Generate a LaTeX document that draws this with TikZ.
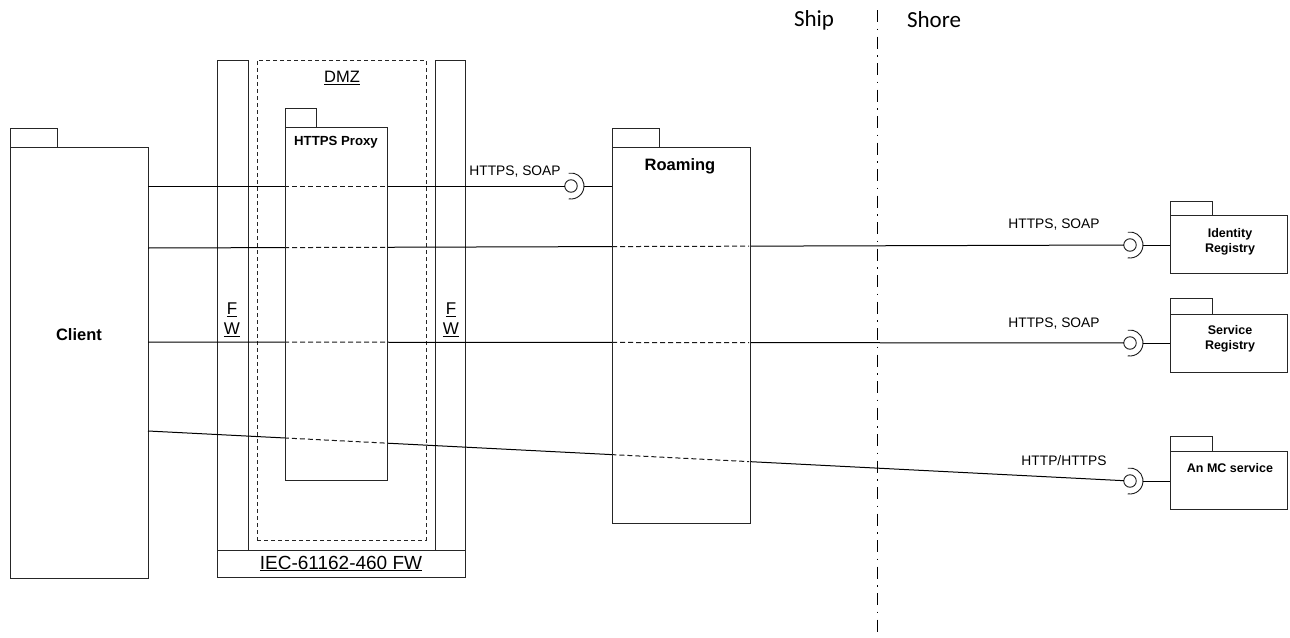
\documentclass[tikz,border=0pt]{standalone}
\usepackage{fontspec}
\setmainfont{Liberation Sans}
\newfontfamily\shipfont{Carlito}
\begin{document}
\begin{tikzpicture}[x=1pt,y=-1pt,line width=0.9pt,
  box/.style={draw=black!85,inner sep=0pt,outer sep=0pt,anchor=north west,rectangle},
  wbox/.style={box,fill=white},
  tab/.style={draw=black!85,inner sep=0pt,outer sep=0pt,anchor=south west,rectangle},
  lolli/.style={circle,draw=black!90,inner sep=0pt,outer sep=0pt,minimum size=12.5pt},
  conn/.style={draw=black,line width=1pt},
  hid/.style={draw=black!90,line width=1pt,dash pattern=on 5pt off 3pt},
  big/.style={font=\bfseries\fontsize{16.5}{19}\selectfont},
  small/.style={font=\bfseries\fontsize{12.5}{15.5}\selectfont,align=center},
  proto/.style={font=\fontsize{13.8}{16}\selectfont},
  fwlbl/.style={font=\fontsize{17}{20}\selectfont,align=center}]
\useasboundingbox (0,0) rectangle (1290,637);

% firewall structure
\node[box,minimum width=31pt,minimum height=490pt] (fwl) at (217,60) {};
\node[box,minimum width=30pt,minimum height=490pt] (fwr) at (435,60) {};
\node[box,minimum width=248pt,minimum height=27pt] (iec) at (217,550) {};
\node[box,dashed,dash pattern=on 4pt off 3pt,line width=0.8pt,minimum width=169pt,minimum height=480pt] (dmz) at (257,60) {};

% client
\node[box,minimum width=138pt,minimum height=431pt] (client) at (10,147) {};
\node[tab,minimum width=47pt,minimum height=19pt] (clienttab) at (client.north west) {};

% right components
\node[box,minimum width=117pt,minimum height=58pt] (idr) at (1170,215) {};
\node[tab,minimum width=42pt,minimum height=14pt] (idrtab) at (idr.north west) {};
\node[box,minimum width=117pt,minimum height=58pt] (svr) at (1170,314) {};
\node[tab,minimum width=42pt,minimum height=16pt] (svrtab) at (svr.north west) {};
\node[box,minimum width=117pt,minimum height=58pt] (mcs) at (1170,451) {};
\node[tab,minimum width=42pt,minimum height=15pt] (mcstab) at (mcs.north west) {};

% lollipops
\node[lolli] (l1) at (571,186) {};
\node[lolli] (l2) at (1130,245) {};
\node[lolli] (l3) at (1130,343) {};
\node[lolli] (l4) at (1130,481) {};
\foreach \n in {l1,l2,l3,l4}{
  \draw[draw=black!90,line width=0.9pt] ([shift={(100:13pt)}]\n.center) arc[start angle=100,end angle=-100,radius=13pt];
  \coordinate (\n s) at ([shift={(13pt,0pt)}]\n.center);
}

% client attachment points
\coordinate (c1) at (148,186);
\coordinate (c2) at (148,248);
\coordinate (c3) at (148,342);
\coordinate (c4) at (148,431);

% connectors
\draw[conn] (c1) -- (l1);
\draw[conn] (c2) -- (l2);
\draw[conn] (c3) -- (l3);
\draw[conn] (c4) -- (l4);

% proxy and roaming boxes (cover connectors)
\node[wbox,minimum width=102pt,minimum height=353pt] (proxy) at (285,127) {};
\node[tab,fill=white,minimum width=31pt,minimum height=19pt] (proxytab) at (proxy.north west) {};
\node[wbox,minimum width=138pt,minimum height=376pt] (roam) at (612,147) {};
\node[tab,fill=white,minimum width=47pt,minimum height=19pt] (roamtab) at (roam.north west) {};

\draw[conn] (l1s) -- (l1s -| roam.west);
\draw[conn] (l2s) -- (l2s -| idr.west);
\draw[conn] (l3s) -- (l3s -| svr.west);
\draw[conn] (l4s) -- (l4s -| mcs.west);

% hidden parts of connectors
\begin{scope}
  \clip ([shift={(1pt,-1pt)}]proxy.north west) rectangle ([shift={(-1pt,1pt)}]proxy.south east)
        ([shift={(1pt,-1pt)}]roam.north west) rectangle ([shift={(-1pt,1pt)}]roam.south east);
  \draw[hid] (c1) -- (l1);
  \draw[hid] (c2) -- (l2);
  \draw[hid] (c3) -- (l3);
  \draw[hid] (c4) -- (l4);
\end{scope}

% ship / shore divider
\coordinate (divtop) at (877,10);
\coordinate (divbot) at (877,637);
\draw[black,line width=1pt,dash pattern=on 12pt off 6.5pt on 1.5pt off 6.5pt] (divtop) -- (divbot);
\node[font=\shipfont\fontsize{23}{26}\selectfont] (ship) at (814,20) {Ship};
\node[font=\shipfont\fontsize{23}{26}\selectfont] (shore) at (934,20) {Shore};

% labels
\node[big] (clientlbl) at (79,335) {Client};
\node[big] (roamlbl) at (680,166) {Roaming};
\node[font=\bfseries\fontsize{13.2}{16}\selectfont] (proxylbl) at (336,142) {HTTPS Proxy};
\node[small] (idrlbl) at (1230,242) {Identity\\Registry};
\node[small] (svrlbl) at (1230,339) {Service\\Registry};
\node[small] (mcslbl) at (1230,468) {An MC service};
\node[font=\fontsize{16.5}{19}\selectfont] (dmzlbl) at (342,78) {\underline{DMZ}};
\node[font=\fontsize{19}{22}\selectfont] (iecbl) at (iec.center) {\underline{IEC-61162-460 FW}};
\node[fwlbl] (fwllbl) at (232,320) {\underline{F}\\\underline{W}};
\node[fwlbl] (fwrlbl) at (451,320) {\underline{F}\\\underline{W}};
\node[proto] (p1) at (515,172) {HTTPS, SOAP};
\node[proto] (p2) at (1054,225) {HTTPS, SOAP};
\node[proto] (p3) at (1054,324) {HTTPS, SOAP};
\node[proto] (p4) at (1064,461) {HTTP/HTTPS};
\end{tikzpicture}
\end{document}
